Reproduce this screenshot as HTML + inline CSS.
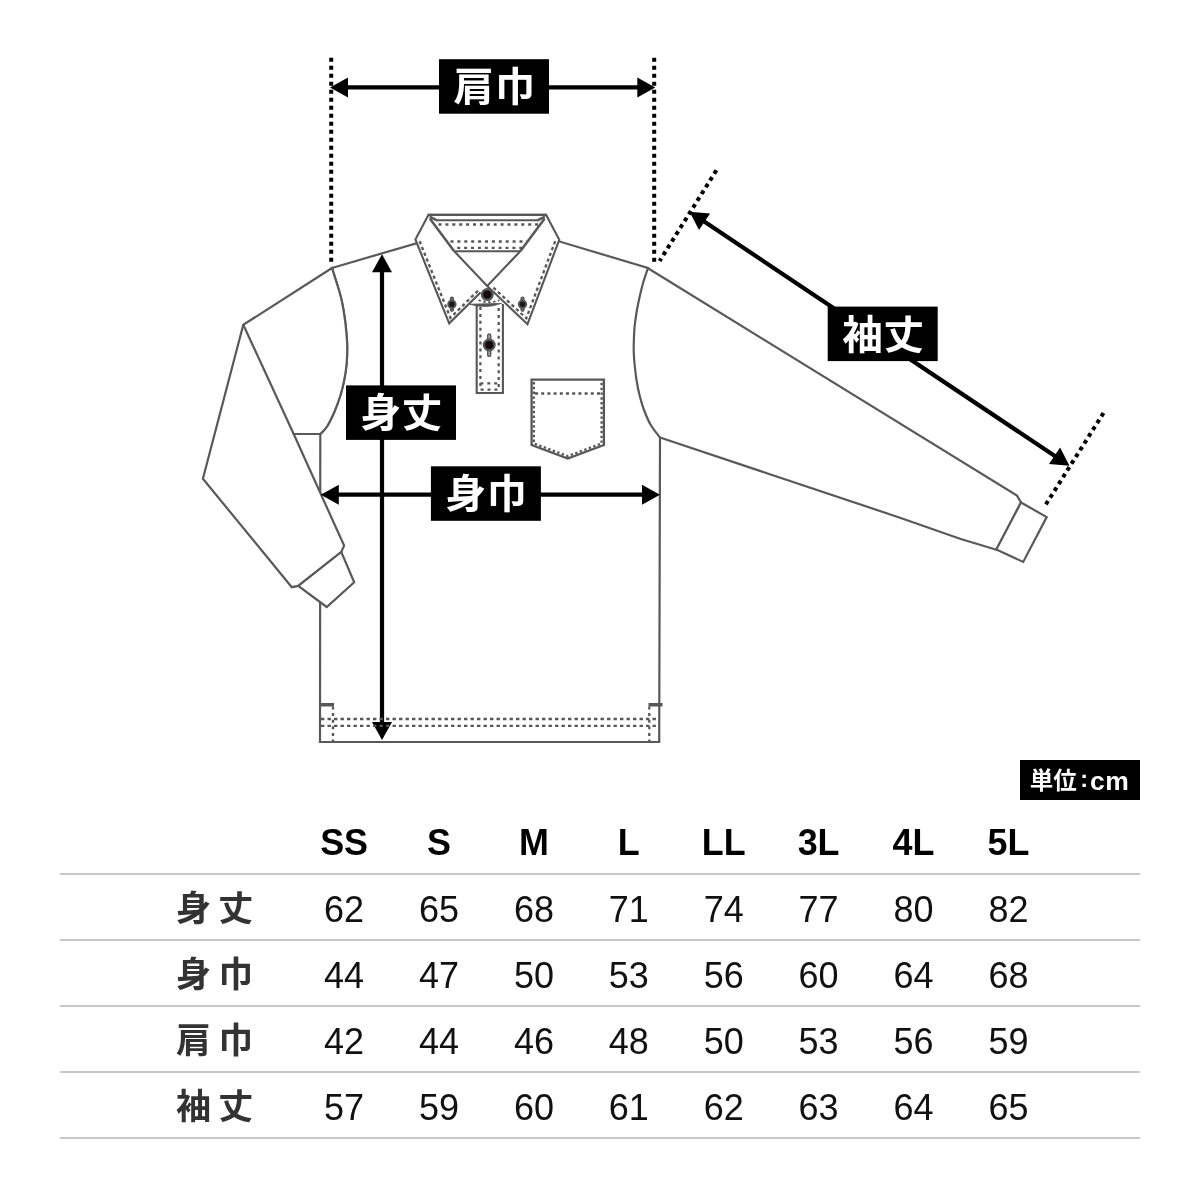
<!DOCTYPE html>
<html lang="ja">
<head>
<meta charset="utf-8">
<title>サイズ表</title>
<style>
html,body{margin:0;padding:0;background:#fff;}
body{width:1200px;height:1200px;overflow:hidden;position:relative;font-family:"Liberation Sans","Noto Sans CJK JP",sans-serif;}
svg{position:absolute;left:0;top:0;display:block;will-change:transform;}
text{font-family:"Liberation Sans","Noto Sans CJK JP",sans-serif;}
.g{fill:none;stroke:#595959;stroke-width:2.2;stroke-linejoin:miter;stroke-linecap:butt;}
.c{fill:none;stroke:#575757;stroke-width:2.1;stroke-linejoin:miter;}
.w{fill:#fff;}
.st{fill:none;stroke:#575757;stroke-width:2.3;stroke-dasharray:3 3.9;}
.dot{fill:none;stroke:#000;stroke-width:4;stroke-dasharray:4 4;}
.lb{font-weight:700;font-size:40px;fill:#fff;text-anchor:middle;}
.hd{font-weight:700;font-size:36.7px;fill:#000;text-anchor:middle;}
.nm{font-weight:400;font-size:36px;fill:#111;text-anchor:middle;}
.rl{font-weight:700;font-size:35px;fill:#333;text-anchor:middle;letter-spacing:7.3px;}
.un{font-weight:700;font-size:23.5px;fill:#fff;text-anchor:start;}
.ln{stroke:#c8c8c8;stroke-width:2;}
</style>
</head>
<body>
<svg width="1200" height="1200" viewBox="0 0 1200 1200">
<rect width="1200" height="1200" fill="#fff"/>

<!-- SHIRT -->
<g id="shirt">
<!-- right sleeve -->
<path class="g w" d="M660,437.5 L900,517.7 L960,538.7 L996.4,549.8 L1021,502.5 L1017,495.6 L648,268.3"/>
<path class="g w" d="M1021,502.5 L1046.7,517.1 L1023.2,561.9 L996.3,549.6 Z"/>
<!-- body -->
<path class="g w" d="M332,268 L417.3,243 L428.8,214.8 L546,214.8 L558.5,241.2 L648,268 C647.2,270.4 644.7,277.6 643.2,282.5 C641.8,287.4 640.6,292.5 639.5,297.5 C638.4,302.5 637.3,307.5 636.5,312.5 C635.7,317.5 635.0,322.5 634.5,327.5 C634.1,332.5 633.9,338.2 633.8,342.5 C633.7,346.8 633.6,349.2 633.8,353.0 C633.9,356.8 634.2,360.5 634.7,365.0 C635.2,369.5 635.7,375.0 636.5,380.0 C637.3,385.0 638.2,390.0 639.5,395.0 C640.8,400.0 642.1,405.0 644.0,410.0 C645.9,415.0 648.1,420.4 650.8,425.0 C653.4,429.6 658.5,435.4 660.0,437.5 L659.2,742 L320,742 L320.3,434 C321.4,432.8 324.6,430.2 327.0,426.5 C329.4,422.8 332.2,416.8 334.5,411.5 C336.8,406.2 338.9,400.2 340.5,395.0 C342.1,389.8 343.2,385.0 344.2,380.0 C345.2,375.0 346.0,370.0 346.5,365.0 C347.0,360.0 347.2,354.5 347.2,350.0 C347.3,345.5 347.2,343.0 346.8,338.0 C346.4,333.0 345.8,326.0 345.0,320.0 C344.2,314.0 343.2,307.8 342.0,302.0 C340.8,296.2 339.2,291.2 337.5,285.5 C335.8,279.8 332.9,270.9 332.0,268.0 Z"/>
<!-- left sleeve -->
<path class="g w" d="M332,268 L243.3,324.8 L202.9,478.7 L291.8,587.2 L298.3,585.9 L341.3,552 L344.1,545.6 L293.7,434 L320.3,434 C321.4,432.8 324.6,430.2 327.0,426.5 C329.4,422.8 332.2,416.8 334.5,411.5 C336.8,406.2 338.9,400.2 340.5,395.0 C342.1,389.8 343.2,385.0 344.2,380.0 C345.2,375.0 346.0,370.0 346.5,365.0 C347.0,360.0 347.2,354.5 347.2,350.0 C347.3,345.5 347.2,343.0 346.8,338.0 C346.4,333.0 345.8,326.0 345.0,320.0 C344.2,314.0 343.2,307.8 342.0,302.0 C340.8,296.2 339.2,291.2 337.5,285.5 C335.8,279.8 332.9,270.9 332.0,268.0 Z"/>
<path class="g" d="M243.3,324.8 L293.7,434"/>
<path class="g w" d="M298.3,585.9 L341.3,552 L354.2,582.2 L326.7,607 Z"/>

<!-- hem -->
<path d="M319.5,704.8 H334 M648.5,704.8 H662.5" fill="none" stroke="#575757" stroke-width="3.5"/>

<!-- collar back band -->
<path class="c" d="M436,220.3 H538.5"/>
<path class="c" d="M429.6,216.6 L437,220.3 M545,216.6 L537.5,220.3" style="stroke-width:2.6"/>
<path class="st" d="M438.5,224.5 H541"/>
<path class="st" d="M450.5,241.5 H527 M457.2,247.8 H522"/>
<path class="c" d="M453.5,251.2 H521"/>
<!-- placket -->
<path class="w" d="M476.7,300 V393 H502.9 V300 Z" stroke="none"/>
<path class="c" d="M476.7,304.5 V393 H502.9 V304"/>
<path class="st" d="M480.4,307 V389.6 H498.7 V307"/>
<path class="st" d="M480.4,383.3 H498.7"/>
<path class="st" d="M478.5,300 Q488,304.4 499.5,300" style="stroke-dasharray:2.4 2.6;stroke-width:1.8"/>
<path d="M469.6,304.2 Q486,303.8 501.7,303.3 Q486,309.4 469.6,304.2 Z" fill="#575757" stroke="#575757" stroke-width="0.8"/>
<!-- collar leaves -->
<path class="w" d="M428.5,214.7 L415.4,239.5 L449.2,323.3 L487.2,286 L454,251 L430,218.8 Z" stroke="none"/>
<path class="w" d="M546,214.7 L559.3,239.7 L527.5,324.2 L487.2,286 L520.5,251 L544.5,218.8 Z" stroke="none"/>
<path class="c" d="M454,251 L487.2,286 L527.5,324.2 L559.3,239.7 L546,214.7 H428.5 L415.4,239.5 L449.2,323.3 L480.5,292.6 M520.5,251 L487.2,286"/>
<path class="c" d="M429.8,218.5 L454,251 M544.7,218.5 L520.5,251" style="stroke-width:2.5"/>
<path class="st" d="M419.6,241.2 L450.4,317.8 L479.5,289.2" style="stroke-width:2.3;stroke-dasharray:3.3 2.9"/>
<path class="st" d="M555.2,241.2 L526.3,318.3 L492.8,287" style="stroke-width:2.3;stroke-dasharray:3.3 2.9"/>
<!-- buttons -->
<g stroke="#555">
<rect x="450.5" y="297.2" width="2.8" height="14" rx="1.4" fill="#777" stroke-width="1.4"/>
<rect x="521.1" y="297.2" width="2.8" height="14" rx="1.4" fill="#777" stroke-width="1.4"/>
<rect x="487.7" y="334" width="3" height="22.4" rx="1.5" fill="#aaa" stroke-width="1.4"/>
<circle cx="451.9" cy="304.2" r="3.7" fill="#1a1a1a" stroke-width="2"/>
<circle cx="522.5" cy="304.2" r="3.7" fill="#1a1a1a" stroke-width="2"/>
<circle cx="487.3" cy="294.6" r="5.3" fill="#120a0a" stroke-width="2.4"/>
<circle cx="489.2" cy="345" r="5.3" fill="#120a0a" stroke-width="2.4"/>
</g>
<!-- pocket -->
<path class="c" d="M531.6,379.6 H603.9 V445 L567.7,458.5 L531.6,445 Z" style="stroke-width:2.3"/>
<path class="st" d="M533.9,382 V443.5 L567.7,456.1 L601.6,443.5 V382" style="stroke-width:2.3;stroke-dasharray:2.4 2.4"/>
<path class="st" d="M535,393.5 H600.5" style="stroke-dasharray:3 3.2"/>
</g>
<!-- ANNOTATIONS -->
<g id="ann">
<path class="dot" d="M331.2,57.8 V262"/>
<path class="dot" d="M654.2,57.8 V262"/>
<path class="dot" d="M716.4,170.3 L659.6,261"/>
<path class="dot" d="M1103.5,413 L1045.7,504.7"/>
<line x1="344.4" y1="87.4" x2="640.9" y2="87.4" stroke="#000" stroke-width="4.2"/>
<polygon points="655.3,87.4 637.3,97.4 637.3,77.4" fill="#000"/>
<polygon points="330.0,87.4 348.0,77.4 348.0,97.4" fill="#000"/>
<line x1="382.0" y1="268.7" x2="382.0" y2="725.6" stroke="#000" stroke-width="4.2"/>
<polygon points="382.0,740.0 372.0,722.0 392.0,722.0" fill="#000"/>
<polygon points="382.0,254.3 392.0,272.3 372.0,272.3" fill="#000"/>
<line x1="335.2" y1="494.7" x2="645.6" y2="494.7" stroke="#000" stroke-width="4.2"/>
<polygon points="660.0,494.7 642.0,504.7 642.0,484.7" fill="#000"/>
<polygon points="320.8,494.7 338.8,484.7 338.8,504.7" fill="#000"/>
<line x1="701.6" y1="219.8" x2="1057.5" y2="457.8" stroke="#000" stroke-width="4.2"/>
<polygon points="1069.5,465.8 1049.0,464.1 1060.1,447.5" fill="#000"/>
<polygon points="689.6,211.8 710.1,213.5 699.0,230.1" fill="#000"/>
<rect x="439.0" y="59.2" width="110.0" height="54.5" fill="#000"/>
<text class="lb" transform="translate(494.70,101.25) scale(1,0.98)" style="font-size:40.6px;letter-spacing:0.6px">肩巾</text>
<rect x="346.0" y="385.4" width="110.0" height="54.5" fill="#000"/>
<text class="lb" transform="translate(401.70,427.45) scale(1,0.98)" style="font-size:40.6px;letter-spacing:0.6px">身丈</text>
<rect x="430.9" y="466.3" width="110.0" height="54.5" fill="#000"/>
<text class="lb" transform="translate(486.60,508.35) scale(1,0.98)" style="font-size:40.6px;letter-spacing:0.6px">身巾</text>
<rect x="827.7" y="306.6" width="110.0" height="54.5" fill="#000"/>
<text class="lb" transform="translate(883.40,348.65) scale(1,0.98)" style="font-size:40.6px;letter-spacing:0.6px">袖丈</text>
</g>
<g id="hem">
<path class="st" d="M321,719 H659.5 M321,725.8 H659.5" style="stroke-dasharray:3.4 3.1"/>
<path class="st" d="M333,706.5 V741 M649.3,706.5 V741" style="stroke-dasharray:3 3.6"/>
</g>
<!-- TABLE -->
<g id="table">
<rect x="1020" y="760" width="120" height="40" fill="#000"/>
<text class="un" x="1029.8" y="789.3"><tspan style="font-size:23.5px">単位</tspan><tspan x="1080.2" y="787.4" style="font-size:23.5px">:</tspan><tspan x="1090" y="790" style="font-size:26.5px;letter-spacing:0.6px">cm</tspan></text>
<text class="hd" transform="translate(344.1,854.7) scale(0.978,1)">SS</text>
<text class="hd" transform="translate(439.0,854.7) scale(0.978,1)">S</text>
<text class="hd" transform="translate(533.9,854.7) scale(0.978,1)">M</text>
<text class="hd" transform="translate(628.8,854.7) scale(0.978,1)">L</text>
<text class="hd" transform="translate(723.7,854.7) scale(0.978,1)">LL</text>
<text class="hd" transform="translate(818.6,854.7) scale(0.978,1)">3L</text>
<text class="hd" transform="translate(913.5,854.7) scale(0.978,1)">4L</text>
<text class="hd" transform="translate(1008.4,854.7) scale(0.978,1)">5L</text>
<text class="rl" x="218.2" y="921.1">身丈</text>
<text class="nm" x="344.1" y="921.6">62</text>
<text class="nm" x="439.0" y="921.6">65</text>
<text class="nm" x="533.9" y="921.6">68</text>
<text class="nm" x="628.8" y="921.6">71</text>
<text class="nm" x="723.7" y="921.6">74</text>
<text class="nm" x="818.6" y="921.6">77</text>
<text class="nm" x="913.5" y="921.6">80</text>
<text class="nm" x="1008.4" y="921.6">82</text>
<text class="rl" x="218.2" y="987.1">身巾</text>
<text class="nm" x="344.1" y="987.6">44</text>
<text class="nm" x="439.0" y="987.6">47</text>
<text class="nm" x="533.9" y="987.6">50</text>
<text class="nm" x="628.8" y="987.6">53</text>
<text class="nm" x="723.7" y="987.6">56</text>
<text class="nm" x="818.6" y="987.6">60</text>
<text class="nm" x="913.5" y="987.6">64</text>
<text class="nm" x="1008.4" y="987.6">68</text>
<text class="rl" x="218.2" y="1053.1">肩巾</text>
<text class="nm" x="344.1" y="1053.6">42</text>
<text class="nm" x="439.0" y="1053.6">44</text>
<text class="nm" x="533.9" y="1053.6">46</text>
<text class="nm" x="628.8" y="1053.6">48</text>
<text class="nm" x="723.7" y="1053.6">50</text>
<text class="nm" x="818.6" y="1053.6">53</text>
<text class="nm" x="913.5" y="1053.6">56</text>
<text class="nm" x="1008.4" y="1053.6">59</text>
<text class="rl" x="218.2" y="1119.1">袖丈</text>
<text class="nm" x="344.1" y="1119.6">57</text>
<text class="nm" x="439.0" y="1119.6">59</text>
<text class="nm" x="533.9" y="1119.6">60</text>
<text class="nm" x="628.8" y="1119.6">61</text>
<text class="nm" x="723.7" y="1119.6">62</text>
<text class="nm" x="818.6" y="1119.6">63</text>
<text class="nm" x="913.5" y="1119.6">64</text>
<text class="nm" x="1008.4" y="1119.6">65</text>
<line class="ln" x1="60" x2="1140" y1="874.0" y2="874.0"/>
<line class="ln" x1="60" x2="1140" y1="940.0" y2="940.0"/>
<line class="ln" x1="60" x2="1140" y1="1006.0" y2="1006.0"/>
<line class="ln" x1="60" x2="1140" y1="1072.0" y2="1072.0"/>
<line class="ln" x1="60" x2="1140" y1="1138.0" y2="1138.0"/>
</g>
</svg>
</body>
</html>
